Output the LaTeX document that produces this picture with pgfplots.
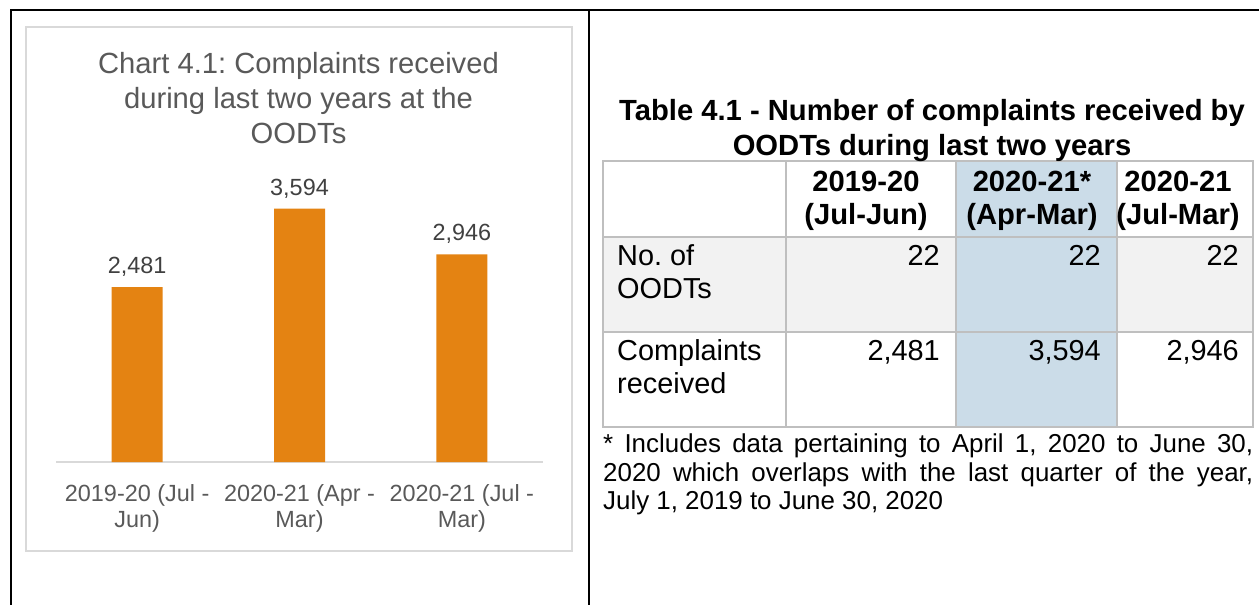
\documentclass[border=0pt]{standalone}
\usepackage{pgfplots}
\pgfplotsset{compat=1.18}
\usepackage{fontspec}
\setmainfont{Liberation Sans}
\newfontfamily\chartfont{Liberation Sans}
\definecolor{barorange}{RGB}{228,131,18}
\definecolor{titlegray}{RGB}{89,89,89}
\definecolor{labelgray}{RGB}{64,64,64}
\definecolor{boxgray}{RGB}{217,217,217}
\definecolor{gridgray}{RGB}{191,191,191}
\definecolor{rowgray}{RGB}{242,242,242}
\definecolor{bluecol}{RGB}{203,220,232}
\begin{document}
\frenchspacing
\begin{tikzpicture}
\path[use as bounding box] (0,0) rectangle (1259bp,-605bp);
\begin{scope}[x=1bp,y=-1bp]
% outer frame
\draw[black, line width=2bp] (11,606)--(11,10)--(1260,10);
\draw[black, line width=2bp] (589,10)--(589,606);
% chart box
\draw[boxgray, line width=1.5bp] (26,27) rectangle (572,551);
% chart title
\begin{scope}[every node/.style={anchor=base, inner sep=0pt, text=titlegray, font=\chartfont\fontsize{29.3}{34}\selectfont}]
\node at (298.5,73.5) {Chart 4.1: Complaints received};
\node at (298.5,108.5) {during last two years at the};
\node at (298.5,143) {OODTs};
\end{scope}
% table fills
\fill[rowgray] (603,237) rectangle (1253,332);
\fill[bluecol] (956,161) rectangle (1117,427);
\draw[gridgray, line width=1.5bp] (603,161) rectangle (1253,427);
\draw[gridgray, line width=1.5bp] (603,237)--(1253,237) (603,332)--(1253,332)
  (786,161)--(786,427) (956,161)--(956,427) (1117,161)--(1117,427);
% table title and header
\begin{scope}[every node/.style={anchor=base, inner sep=0pt, font=\bfseries\fontsize{29.3}{34}\selectfont}]
\node at (932,120.5) {Table 4.1 - Number of complaints received by};
\node at (932,155.5) {OODTs during last two years};
\node at (866,191.5) {2019-20};
\node at (866,224.5) {(Jul-Jun)};
\node at (1032,191.5) {2020-21*};
\node at (1032,224.5) {(Apr-Mar)};
\node at (1178,191.5) {2020-21};
\node at (1178,224.5) {(Jul-Mar)};
\end{scope}
\begin{scope}[every node/.style={inner sep=0pt, font=\fontsize{29}{34}\selectfont}]
\node[anchor=base west] at (617,265) {No. of};
\node[anchor=base west] at (617,298) {OODTs};
\node[anchor=base west] at (617,360) {Complaints};
\node[anchor=base west] at (617,393) {received};
\node[anchor=base east] at (940,265) {22};
\node[anchor=base east] at (1101,265) {22};
\node[anchor=base east] at (1239,265) {22};
\node[anchor=base east] at (940,360) {2,481};
\node[anchor=base east] at (1101,360) {3,594};
\node[anchor=base east] at (1239,360) {2,946};
\end{scope}
% footnote
\begin{scope}[every node/.style={anchor=base west, inner sep=0pt, font=\fontsize{26}{29}\selectfont}]
\node at (603,452.5) {\makebox[650bp][s]{* Includes data pertaining to April 1, 2020 to June 30,}};
\node at (603,481.5) {\makebox[650bp][s]{2020 which overlaps with the last quarter of the year,}};
\node at (603,509.5) {July 1, 2019 to June 30, 2020};
\end{scope}
\end{scope}
\begin{axis}[
  at={(56bp,-462bp)}, anchor=south west,
  scale only axis, width=487bp, height=281.9bp,
  xmin=-0.5, xmax=2.5, ymin=0, ymax=4000,
  axis y line=none, axis x line=bottom,
  x axis line style={-, draw=boxgray, line width=1.5bp},
  xtick={0,1,2},
  xticklabels={{2019-20 (Jul -\\Jun)},{2020-21 (Apr -\\Mar)},{2020-21 (Jul -\\Mar)}},
  major tick length=0pt,
  xticklabel style={align=center, anchor=north, inner sep=0pt, yshift=-22bp, text=titlegray,
    font=\chartfont\fontsize{23.5}{26.8}\selectfont},
  ybar, bar width=51bp,
  nodes near coords={\pgfmathprintnumber[assume math mode=true,1000 sep={,}]{\pgfplotspointmeta}},
  every node near coord/.append style={inner sep=0pt, yshift=10.5bp, text=labelgray,
    font=\chartfont\fontsize{23.5}{26}\selectfont},
  clip=false,
]
\addplot[fill=barorange, draw=none] coordinates {(0,2481) (1,3594) (2,2946)};
\end{axis}
\end{tikzpicture}
\end{document}
